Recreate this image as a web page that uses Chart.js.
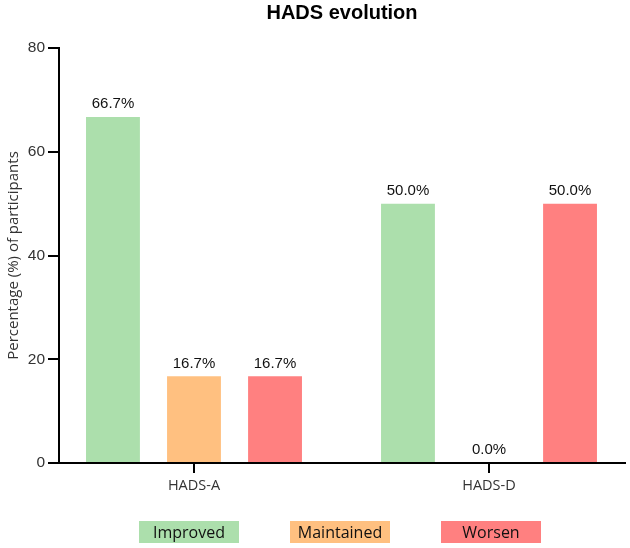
<!DOCTYPE html>
<html>
<head>
<meta charset="utf-8">
<script src="https://cdn.jsdelivr.net/npm/chart.js@4"></script>
<style>
  html, body { margin: 0; padding: 0; background: #fff; }
  #wrap { width: 630px; height: 548px; }
</style>
</head>
<body>
<div id="wrap"><canvas id="chart"></canvas></div>
<script>
const categories = ["HADS-A", "HADS-D"];
const seriesNames = ["Improved", "Maintained", "Worsen"];
const improved = [66.7, 50.0];
const maintained = [16.7, 0.0];
const worsen = [16.7, 50.0];
const yTicks = [0, 20, 40, 60, 80];
const colors = ["#acdfac", "#ffc080", "#ff8080"];

// categories sit on a linear axis so the y axis can cut into the first group
const toPoints = arr => arr.map((v, i) => ({ x: i, y: v }));

const titlePlugin = {
  id: "plotTitle",
  afterDraw(chart) {
    const { ctx, chartArea } = chart;
    ctx.save();
    ctx.font = "bold 20px 'Liberation Sans', Arial, sans-serif";
    ctx.fillStyle = "#000";
    ctx.textAlign = "center";
    ctx.textBaseline = "middle";
    ctx.fillText("HADS evolution", (chartArea.left + chartArea.right) / 2, 13);
    ctx.restore();
  }
};

// percent labels above bars
const valueLabels = {
  id: "valueLabels",
  afterDatasetsDraw(chart) {
    const ctx = chart.ctx;
    ctx.save();
    ctx.font = "15px 'Liberation Sans', Arial, sans-serif";
    ctx.fillStyle = "#111";
    ctx.textAlign = "center";
    ctx.textBaseline = "middle";
    chart.data.datasets.forEach((ds, i) => {
      chart.getDatasetMeta(i).data.forEach((bar, j) => {
        ctx.fillText(ds.data[j].y.toFixed(1) + "%", bar.x, bar.y - 13);
      });
    });
    ctx.restore();
  }
};

// legend: coloured boxes with the name inside
const boxLegend = {
  id: "boxLegend",
  afterDraw(chart) {
    const { ctx, chartArea } = chart;
    const w = 100, h = 22, gap = 51, top = 521;
    const total = seriesNames.length * w + (seriesNames.length - 1) * gap;
    let x = (chartArea.left + chartArea.right) / 2 - 2 - total / 2;
    ctx.save();
    ctx.font = "16px 'Open Sans', sans-serif";
    ctx.textAlign = "center";
    ctx.textBaseline = "middle";
    seriesNames.forEach((name, i) => {
      ctx.fillStyle = colors[i];
      ctx.fillRect(x, top, w, h);
      ctx.fillStyle = "#111";
      ctx.fillText(name, x + w / 2, top + h / 2 + 1);
      x += w + gap;
    });
    ctx.restore();
  }
};

new Chart(document.getElementById("chart"), {
  type: "bar",
  data: {
    datasets: [
      { label: seriesNames[0], data: toPoints(improved), backgroundColor: colors[0] },
      { label: seriesNames[1], data: toPoints(maintained), backgroundColor: colors[1] },
      { label: seriesNames[2], data: toPoints(worsen), backgroundColor: colors[2] }
    ]
  },
  options: {
    responsive: true,
    maintainAspectRatio: false,
    animation: false,
    categoryPercentage: 0.824,
    barPercentage: 0.665,
    layout: { padding: { top: 48, bottom: 45, left: 0, right: 5 } },
    plugins: {
      legend: { display: false },
      title: { display: false },
      tooltip: { enabled: false }
    },
    scales: {
      x: {
        type: "linear",
        offset: false,
        min: -0.4576,
        max: 1.461,
        afterBuildTicks(scale) { scale.ticks = categories.map((c, i) => ({ value: i })); },
        border: { display: true, color: "#000", width: 2 },
        grid: { offset: false, drawOnChartArea: false, color: "#000", lineWidth: 2, tickLength: 10 },
        ticks: {
          color: "#333",
          font: { family: "'Open Sans', sans-serif", size: 14.5 },
          padding: 4,
          callback: v => categories[v]
        },
        afterFit(scale) { scale.height = 40; }
      },
      y: {
        min: 0,
        max: 80,
        afterBuildTicks(scale) { scale.ticks = yTicks.map(v => ({ value: v })); },
        border: { display: true, color: "#000", width: 2 },
        grid: { drawOnChartArea: false, color: "#000", lineWidth: 2, tickLength: 11 },
        ticks: { color: "#333", font: { family: "'Liberation Sans', Arial, sans-serif", size: 15.5 }, padding: 3 },
        title: {
          display: true,
          text: "Percentage (%) of participants",
          color: "#333",
          font: { family: "'Open Sans', sans-serif", size: 15 },
          padding: { top: 5, bottom: 0 }
        },
        afterFit(scale) { scale.width = 59; }
      }
    }
  },
  plugins: [titlePlugin, valueLabels, boxLegend]
});
</script>
</body>
</html>
